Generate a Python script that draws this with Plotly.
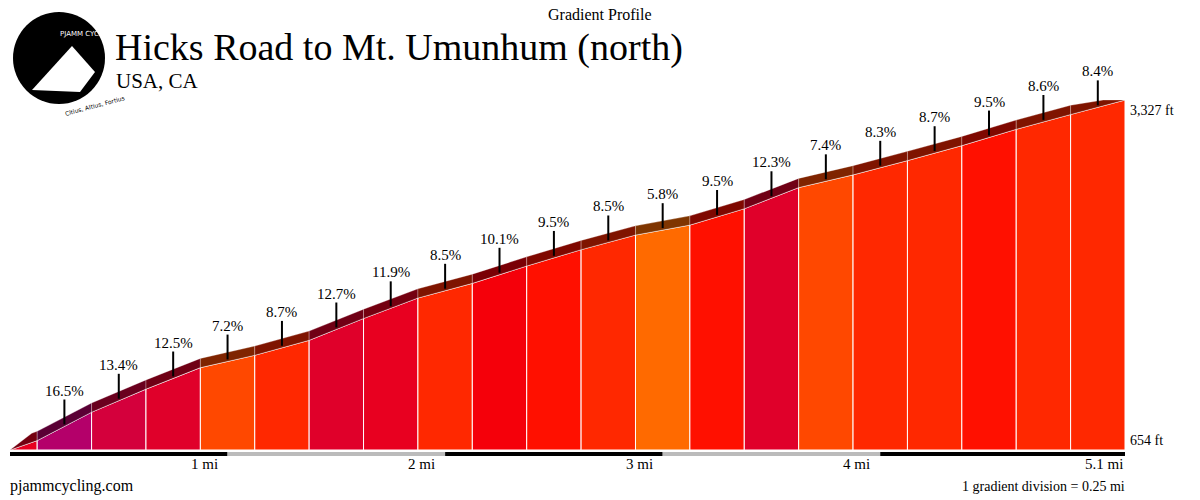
import plotly.graph_objects as go

# Climb data: gradient per segment (first short segment 0.125 mi, then 0.25 mi each)
seg_len = [0.125] + [0.25] * 20
grades = [11.0, 16.5, 13.4, 12.5, 7.2, 8.7, 12.7, 11.9, 8.5, 10.1, 9.5,
          8.5, 5.8, 9.5, 12.3, 7.4, 8.3, 8.7, 9.5, 8.6, 8.4]
show_label = [False] + [True] * 20
start_elev = 654
end_elev = 3327
mile_ticks = [1, 2, 3, 4]
total_mi = 5.125

# distance / elevation along the climb
xs = [0.0]
elevs = [start_elev]
for L, g in zip(seg_len, grades):
    xs.append(xs[-1] + L)
    elevs.append(elevs[-1] + L * 5280 * g / 100)
scale = (end_elev - start_elev) / (elevs[-1] - start_elev)
elevs = [start_elev + (e - start_elev) * scale for e in elevs]


def grade_color(g):
    steps = [(6.5, (255, 106, 0)), (8.0, (255, 72, 0)), (9.0, (255, 40, 0)),
             (9.8, (255, 16, 0)), (11.0, (245, 0, 10)), (12.0, (232, 0, 32)),
             (13.0, (224, 0, 42)), (15.0, (212, 0, 60)), (99, (180, 0, 106))]
    for t, c in steps:
        if g < t:
            return c
    return steps[-1][1]


def rgb(c, f=1.0):
    return "rgb(%d,%d,%d)" % tuple(int(v * f) for v in c)


# page offset (figure sits 8px in from the window corner)
OFF = 8
# plot area in window pixels: x 10..1125, y 10..450
PL, PR, PT, PB = 10 - OFF, 1125 - OFF, 10 - OFF, 450 - OFF


def px(x):
    return (x - OFF - PL) / (PR - PL)


def py(y):
    return (PB - (y - OFF)) / (PB - PT)


fig = go.Figure()
d = 70  # band depth in ft
dx0 = 0.1  # slant of band ends in miles
n = len(grades)
for i in range(n):
    x0, x1 = xs[i], xs[i + 1]
    y0, y1 = elevs[i], elevs[i + 1]
    c = grade_color(grades[i])
    # front face
    fig.add_trace(go.Scatter(x=[x0, x0, x1, x1, x0], y=[start_elev, y0, y1, start_elev, start_elev],
                             mode="lines", fill="toself", fillcolor=rgb(c),
                             line=dict(color="white", width=1), hoverinfo="skip", showlegend=False))
    # top band
    sl = (y1 - y0) / (x1 - x0)
    bx0 = x0 + dx0 if i == 0 else x0
    bx1 = x1 - dx0 if i == n - 1 else x1
    by0 = y0 + (bx0 - x0) * sl + d
    by1 = y0 + (bx1 - x0) * sl + d
    if i == n - 1:
        by1 = y1
    fig.add_trace(go.Scatter(x=[x0, x1, bx1, bx0, x0], y=[y0, y1, by1, by0, y0],
                             mode="lines", fill="toself", fillcolor=rgb(c, 0.5),
                             line=dict(color="rgba(255,255,255,0.35)", width=0.8),
                             hoverinfo="skip", showlegend=False))
    if show_label[i]:
        xm = (x0 + x1) / 2
        ym = (y0 + y1) / 2 + d / 2
        fig.add_trace(go.Scatter(x=[xm, xm], y=[ym - 20, ym + 170], mode="lines",
                                 line=dict(color="black", width=2),
                                 hoverinfo="skip", showlegend=False))
        fig.add_annotation(x=xm, y=ym + 170, text="%.1f%%" % grades[i], showarrow=False,
                           yanchor="bottom", yshift=-1,
                           font=dict(family="Liberation Serif", size=15, color="black"))

# bottom distance bar
bounds = [0] + mile_ticks + [total_mi]
for k in range(len(bounds) - 1):
    fig.add_shape(type="line", xref="x", yref="paper", x0=bounds[k], x1=bounds[k + 1],
                  y0=py(454), y1=py(454),
                  line=dict(color="black" if k % 2 == 0 else "#bbbbbb", width=4))
for m in mile_ticks + [total_mi]:
    lbl = "%g mi" % (5.1 if m == total_mi else m)
    fig.add_annotation(x=m, y=py(464), xref="x", yref="paper", text=lbl, showarrow=False,
                       xanchor="right", yanchor="middle", xshift=-8 if m != total_mi else 0,
                       font=dict(family="Liberation Serif", size=15, color="black"))


# titles and footer (window pixel coords)
def txt(x, y, s, size, anchor="left"):
    fig.add_annotation(x=px(x), y=py(y), xref="paper", yref="paper", text=s,
                       showarrow=False, xanchor=anchor, yanchor="middle",
                       font=dict(family="Liberation Serif", size=size, color="black"))


txt(1128, 110, "3,327 ft", 14)
txt(1128, 440, "654 ft", 14)
txt(600, 15, "Gradient Profile", 16, "center")
txt(113, 48, "Hicks Road to Mt. Umunhum (north)", 38)
txt(114, 81, "USA, CA", 21)
txt(8, 486, "pjammcycling.com", 16)
txt(1127, 486, "1 gradient division = 0.25 mi", 14, "right")

# logo
fig.add_shape(type="circle", xref="paper", yref="paper", x0=px(13), x1=px(105),
              y0=py(104), y1=py(12), fillcolor="black", line=dict(width=0))
fig.add_shape(type="path", xref="paper", yref="paper",
              path="M %f %f L %f %f L %f %f L %f %f Z" % (px(32), py(90), px(72), py(46),
                                                          px(95), py(72), px(80), py(92)),
              fillcolor="white", line=dict(width=0))
fig.add_annotation(x=px(58), y=py(28), xref="paper", yref="paper", text="PJAMM CYCLING",
                   showarrow=False, font=dict(family="DejaVu Sans", size=7, color="white"))
fig.add_annotation(x=px(62), y=py(92), xref="paper", yref="paper",
                   text="Citius, Altius, Fortius", showarrow=False, textangle=-15,
                   font=dict(family="DejaVu Sans", size=6, color="black"))

px_per_ft = 350 / (end_elev - start_elev)
fig.update_layout(
    width=1200, height=500, margin=dict(l=PL, r=1200 - PR, t=PT, b=500 - PB, autoexpand=False),
    plot_bgcolor="white", paper_bgcolor="white",
    xaxis=dict(range=[0, total_mi], visible=False, fixedrange=True),
    yaxis=dict(range=[start_elev, start_elev + 440 / px_per_ft], visible=False, fixedrange=True),
)
fig.write_html("out.html")
